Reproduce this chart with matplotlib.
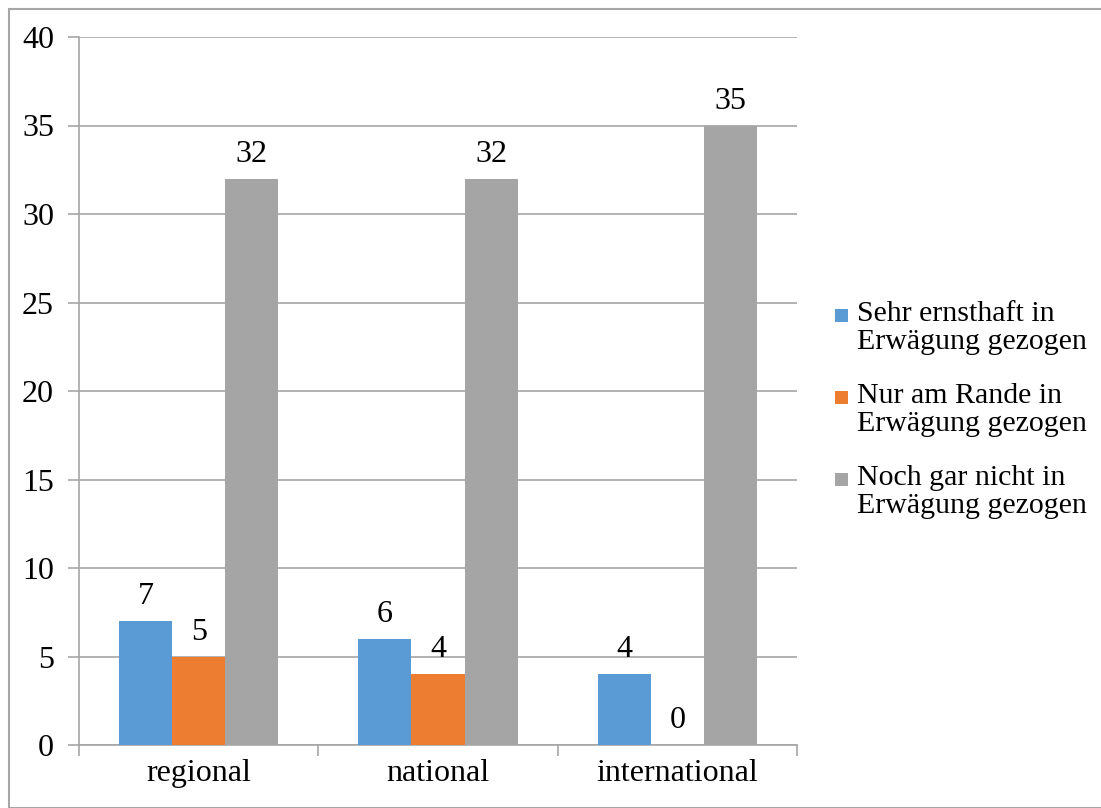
import matplotlib
matplotlib.use("Agg")
import matplotlib.pyplot as plt
import numpy as np
from matplotlib.patches import Rectangle

categories = ["regional", "national", "international"]
series_names = ["Sehr ernsthaft in\nErwägung gezogen",
                "Nur am Rande in\nErwägung gezogen",
                "Noch gar nicht in\nErwägung gezogen"]
sehr = [7, 6, 4]
rande = [5, 4, 0]
gar_nicht = [32, 32, 35]
colors = ["#5B9BD5", "#ED7D31", "#A5A5A5"]
yticks = [0, 5, 10, 15, 20, 25, 30, 35, 40]

plt.rcParams['font.family'] = ['Liberation Serif', 'DejaVu Serif']
FS = 23

W, H = 1101, 808
fig = plt.figure(figsize=(W/100, H/100), dpi=100)
ax = fig.add_axes([79/W, 1-745/H, (797-79)/W, (745-37)/H])

x = np.arange(len(categories))
bw = 0.2215
series = [sehr, rande, gar_nicht]
for i, (vals, c, name) in enumerate(zip(series, colors, series_names)):
    pos = x + (i-1)*bw
    ax.bar(pos, vals, bw, color=c, label=name, zorder=3)
    for p, v in zip(pos, vals):
        ax.annotate(str(v), (p, v), xytext=(0, 17.5), textcoords="offset points",
                    ha="center", va="center", fontsize=FS)

ax.set_xlim(-0.5, 2.5)
ax.set_ylim(0, 40)
ax.set_yticks(yticks)
ax.set_yticklabels([str(t) for t in yticks], fontsize=FS)
ax.yaxis.grid(True, color="#A6A6A6", linewidth=1.2, zorder=0)
ax.set_xticks(x)
ax.set_xticklabels(categories, fontsize=FS)
ax.set_xticks([-0.5, 0.5, 1.5, 2.5], minor=True)
ax.tick_params(axis="x", which="major", length=0, pad=10)
ax.tick_params(axis="x", which="minor", length=8, color="#A6A6A6", width=1.2, direction="out")
ax.tick_params(axis="y", length=8, color="#A6A6A6", width=1.2, pad=10)
for s in ["top", "right"]:
    ax.spines[s].set_visible(False)
for s in ["left", "bottom"]:
    ax.spines[s].set_color("#A6A6A6")
    ax.spines[s].set_linewidth(1.2)

# legend drawn manually (handle aligned with first text line)
leg_y = [315, 397, 479]
for name, c, yy in zip(series_names, colors, leg_y):
    fig.patches.append(Rectangle((835/W, 1-(yy+7)/H), 13/W, 13/H, transform=fig.transFigure,
                                 facecolor=c, edgecolor="none"))
    fig.text(857/W, 1-(yy-14)/H, name, fontsize=21.5, ha="left", va="top", linespacing=1.1)

fig.patches.append(Rectangle((9/W, 0), (W-9)/W + 0.01, 1-9/H, transform=fig.transFigure,
                             fill=False, edgecolor="#A6A6A6", linewidth=1.5))
fig.savefig("out.png", dpi=100)
